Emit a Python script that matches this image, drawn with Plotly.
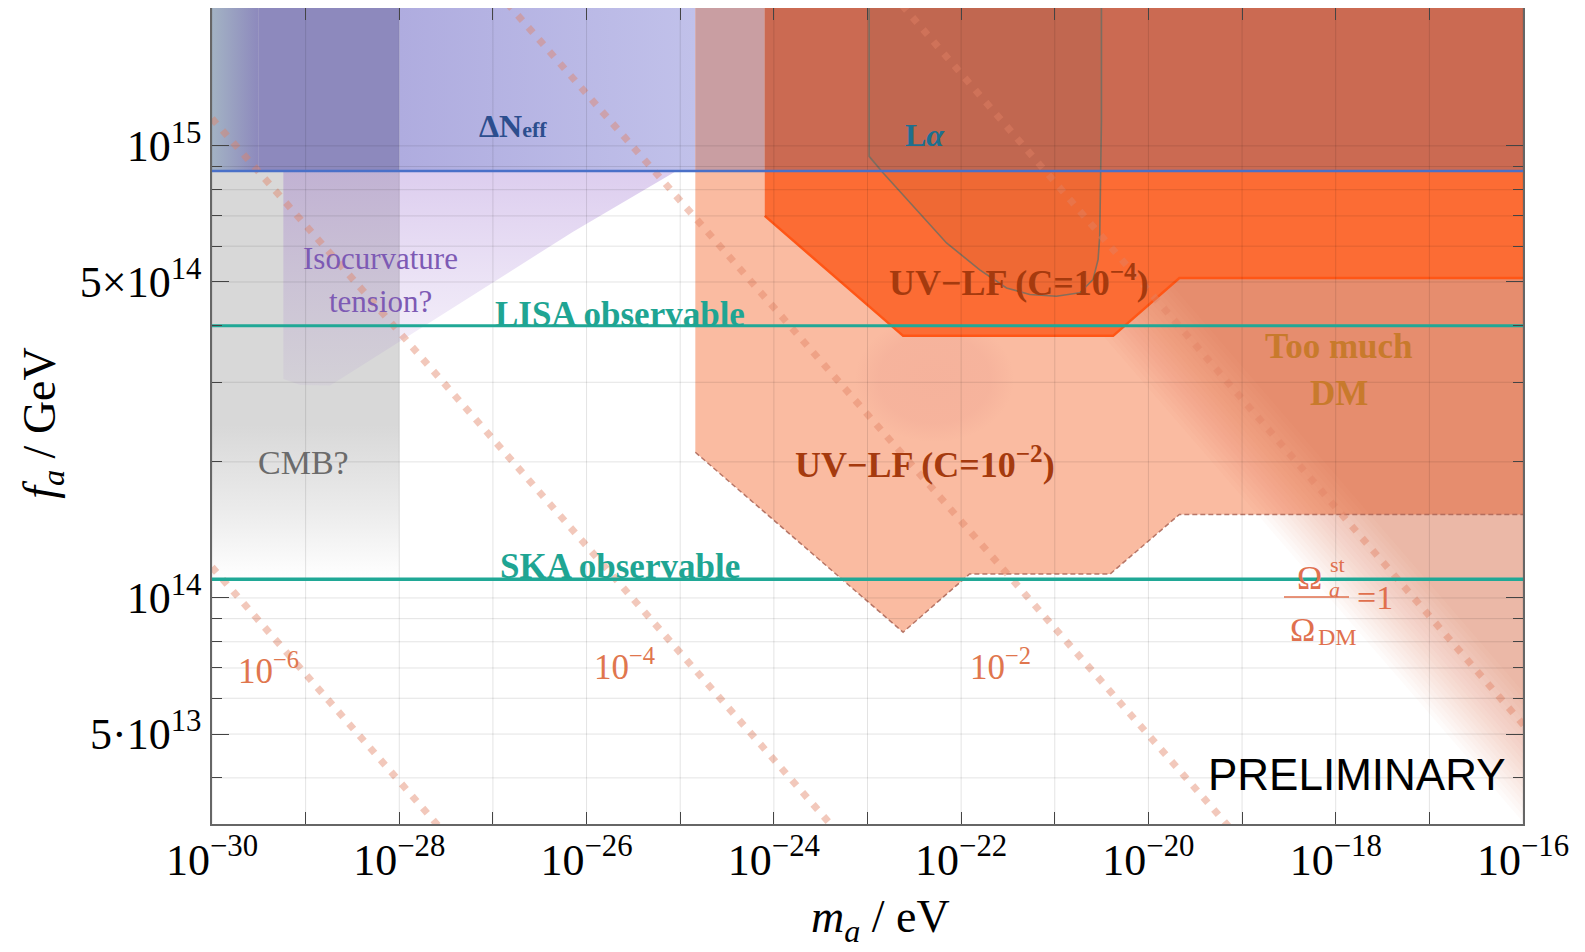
import math
import plotly.graph_objects as go

# ---------------- values ----------------
# axis ranges (log10 units)
x_range_log = [-30, -16]
y_range_log = [13.5, 15.305]

x_major = [1e-30, 1e-28, 1e-26, 1e-24, 1e-22, 1e-20, 1e-18, 1e-16]
x_major_text = ["10<sup>−30</sup>", "10<sup>−28</sup>", "10<sup>−26</sup>", "10<sup>−24</sup>",
                "10<sup>−22</sup>", "10<sup>−20</sup>", "10<sup>−18</sup>", "10<sup>−16</sup>"]
x_minor = [1e-29, 1e-27, 1e-25, 1e-23, 1e-21, 1e-19, 1e-17]

y_major = [5e13, 1e14, 5e14, 1e15]
y_major_text = ["5·10<sup>13</sup>", "10<sup>14</sup>", "5×10<sup>14</sup>", "10<sup>15</sup>"]
y_minor = [4e13, 6e13, 7e13, 8e13, 9e13, 2e14, 3e14, 4e14, 6e14, 7e14, 8e14, 9e14]

# plot frame limits used to close the filled regions
m_left, m_right = 1e-30, 1e-16
f_bottom, f_top = 3.17e13, 2.02e15

# horizontal lines (f_a in GeV)
f_dneff = 8.8e14
f_lisa = 4.0e14
f_ska = 1.1e14

# "CMB?" band
m_cmb = [1e-30, 1e-28]
f_cmb_fade = [1.1e14, 2.6e14]

# UV-LF (C = 1e-2) lower boundary
m_uv2 = [1.45e-25, 2.4e-23, 1.23e-22, 3.9e-21, 2.14e-20, 1e-16]
f_uv2 = [2.1e14, 8.4e13, 1.13e14, 1.13e14, 1.53e14, 1.53e14]

# UV-LF (C = 1e-4) lower boundary
m_uv4 = [8.0e-25, 2.4e-23, 4.2e-21, 2.14e-20, 1e-16]
f_uv4 = [7.0e14, 3.8e14, 3.8e14, 5.1e14, 5.1e14]

# soft darker patch under the C=1e-4 region (centre m, f and half-widths in decades)
blob_center = (5.2e-23, 3.05e14)
blob_halfwidth = (0.85, 0.14)

# Lyman-alpha contour
m_lya = [1.04e-23, 1.04e-23, 1.47e-23, 3.08e-23, 6.98e-23, 1.58e-22, 3.05e-22, 5.41e-22,
         1.04e-21, 1.85e-21, 2.56e-21, 2.90e-21, 3.02e-21, 3.15e-21, 3.15e-21]
f_lya = [2.02e15, 9.48e14, 8.71e14, 7.35e14, 6.10e14, 5.32e14, 4.85e14, 4.69e14,
         4.65e14, 4.73e14, 5.06e14, 5.60e14, 6.31e14, 1.14e15, 2.02e15]

# isocurvature tension region (below the ΔNeff line)
m_iso = [5.78e-30, 5.78e-30, 8.75e-30, 1.83e-29, 7.18e-27, 9.1e-26]
f_iso = [8.8e14, 3.05e14, 2.96e14, 2.95e14, 6.46e14, 8.8e14]

# ΔNeff band sub-zones (edges in m_a)
m_band = [1e-30, 3.16e-30, 1e-28, 1.45e-25, 8.0e-25, 1e-16]

# Ω_a/Ω_DM contours (endpoints), labels
omega_labels = ["10<sup>−6</sup>", "10<sup>−4</sup>", "10<sup>−2</sup>", "1"]
omega_m = [1e-30, 1e-14]
omega_f = [[1.17e14, 1.9e10], [1.15e15, 1.9e11], [1.15e16, 1.9e12], [1.2e17, 1.74e13]]

SERIF = "Liberation Serif, Times New Roman, serif"
SANS = "Liberation Sans, Arial, sans-serif"

fig = go.Figure()


def region(xs, ys, color="rgba(0,0,0,0)", grad=None, line=None):
    kw = dict(x=xs, y=ys, mode="lines", fill="toself", fillcolor=color,
              line=line if line else dict(width=0), hoverinfo="skip", showlegend=False)
    if grad is not None:
        kw["fillgradient"] = grad
    fig.add_trace(go.Scatter(**kw))


# 1. CMB? grey band with fading lower edge
region([m_cmb[0], m_cmb[1], m_cmb[1], m_cmb[0]],
       [f_cmb_fade[0], f_cmb_fade[0], f_top, f_top],
       grad=dict(type="vertical",
                 colorscale=[[0, "rgba(216,216,216,0)"], [0.12, "rgba(216,216,216,0.5)"],
                             [0.27, "rgba(216,216,216,1)"], [1, "rgba(216,216,216,1)"]]))

# 2. UV-LF C=1e-2 region (light salmon)
region([m_uv2[0]] + m_uv2 + [m_right, m_uv2[0]],
       [f_top] + f_uv2 + [f_top, f_top],
       color="rgb(250,187,161)")

# 2b. soft darker patch
bx, by = [], []
for k in range(61):
    t = 2 * math.pi * k / 60
    bx.append(blob_center[0] * 10 ** (blob_halfwidth[0] * math.cos(t)))
    by.append(blob_center[1] * 10 ** (blob_halfwidth[1] * math.sin(t)))
region(bx, by, grad=dict(type="radial",
                         colorscale=[[0, "rgba(215,120,120,0.13)"], [0.7, "rgba(215,120,120,0.11)"],
                                     [1, "rgba(215,120,120,0)"]]))

# 3. "Too much DM" region right of the Ω=1 contour, soft left edge
n_layers = 20
for k in range(n_layers):
    shift = 10 ** (-0.9 + 1.2 * k / (n_layers - 1))
    xs = [omega_m[0] * shift, omega_m[1] * shift, 1e-10, 1e-10, omega_m[0] * shift]
    ys = [omega_f[3][0], omega_f[3][1], omega_f[3][1], 1e18, 1e18]
    region(xs, ys, color="rgba(231,79,26,0.024)")

# 4. UV-LF C=1e-4 region (orange) with solid border
region([m_uv4[0]] + m_uv4 + [m_right, m_uv4[0]],
       [f_top] + f_uv4 + [f_top, f_top],
       color="rgb(252,108,52)")
fig.add_trace(go.Scatter(x=m_uv4, y=f_uv4, mode="lines",
                         line=dict(color="rgb(255,86,22)", width=2.5),
                         hoverinfo="skip", showlegend=False))

# 5. isocurvature tension (purple, fading downwards)
region(m_iso, f_iso,
       grad=dict(type="vertical",
                 colorscale=[[0, "rgba(140,90,200,0.06)"], [0.45, "rgba(140,90,200,0.16)"],
                             [1, "rgba(140,90,200,0.30)"]]))

# 6. ΔNeff excluded band (zones differ by what lies underneath)
band_fills = [
    dict(grad=dict(type="horizontal", colorscale=[[0, "rgb(163,179,196)"], [1, "rgb(141,137,189)"]])),
    dict(color="rgb(141,137,189)"),
    dict(grad=dict(type="horizontal", colorscale=[[0, "rgb(175,172,223)"], [1, "rgb(193,193,234)"]])),
    dict(color="rgb(201,158,162)"),
    dict(color="rgb(203,106,82)"),
]
for i, spec in enumerate(band_fills):
    a, b = m_band[i], m_band[i + 1]
    region([a, b, b, a], [f_dneff, f_dneff, f_top, f_top], **spec)

# 7. Lyman-alpha contour
region(m_lya, f_lya, color="rgba(70,70,60,0.07)",
       line=dict(color="rgba(105,110,100,0.8)", width=1.6))

# 8. dashed boundary of UV-LF C=1e-2
fig.add_trace(go.Scatter(x=m_uv2, y=f_uv2, mode="lines",
                         line=dict(color="rgba(170,100,85,0.85)", width=1.5, dash="5px,3px"),
                         hoverinfo="skip", showlegend=False))

# 9. Ω_a/Ω_DM contours (dotted)
for fpair in omega_f:
    fig.add_trace(go.Scatter(x=omega_m, y=fpair, mode="lines",
                             line=dict(color="rgba(225,130,100,0.44)", width=7, dash="7px,9px"),
                             hoverinfo="skip", showlegend=False))

# 10. grid drawn over the fills
gx, gy = [], []
for xv in sorted(x_major + x_minor):
    gx += [xv, xv, None]
    gy += [f_bottom, f_top, None]
for yv in sorted(y_major + y_minor):
    gx += [m_left, m_right, None]
    gy += [yv, yv, None]
fig.add_trace(go.Scatter(x=gx, y=gy, mode="lines", line=dict(color="rgba(0,0,0,0.11)", width=1),
                         hoverinfo="skip", showlegend=False))

# 11. bound / sensitivity lines
for fv, col, w in [(f_dneff, "rgb(74,112,200)", 2.5), (f_lisa, "rgb(32,168,150)", 3),
                   (f_ska, "rgb(32,168,150)", 3.5)]:
    fig.add_trace(go.Scatter(x=[m_left, m_right], y=[fv, fv], mode="lines",
                             line=dict(color=col, width=w), hoverinfo="skip", showlegend=False))


# ---------------- text ----------------
def label(x, y, text, size, color, family=SERIF, **kw):
    fig.add_annotation(x=x, y=y, xref="x", yref="y", text=text, showarrow=False,
                       xanchor="center", yanchor="middle",
                       font=dict(family=family, size=size, color=color), **kw)


label(-26.79, 15.043, "<b>ΔN<span style='font-size:22px'>eff</span></b>", 32, "#2C4E8E")
label(-22.39, 15.025, "<b>L<i>α</i></b>", 32, "#1E6F8E")
label(-28.20, 14.752, "Isocurvature", 31, "#7D5AB4")
label(-28.20, 14.655, "tension?", 31, "#7D5AB4")
label(-29.02, 14.299, "CMB?", 34, "#6B6B6B")
label(-25.64, 14.628, "<b>LISA observable</b>", 35, "#1FA593")
label(-25.64, 14.070, "<b>SKA observable</b>", 35, "#1FA593")
label(-21.38, 14.702, "<b>UV−LF (C=10<sup>−4</sup>)</b>", 36, "#A53A0E")
label(-22.39, 14.299, "<b>UV−LF (C=10<sup>−2</sup>)</b>", 36, "#A53A0E")
label(-17.97, 14.556, "<b>Too much</b>", 35, "#C87A2C")
label(-17.97, 14.452, "<b>DM</b>", 35, "#C87A2C")
label(-29.40, 13.845, omega_labels[0], 35, "#E0764E")
label(-25.59, 13.852, omega_labels[1], 35, "#E0764E")
label(-21.58, 13.852, omega_labels[2], 35, "#E0764E")
# Ω_a^st / Ω_DM = 1
label(-18.28, 14.045, "Ω", 34, "#E0704E")
label(-17.98, 14.075, "st", 22, "#E0704E")
label(-18.01, 14.018, "<i>a</i>", 22, "#E0704E")
label(-17.585, 14.001, "=" + omega_labels[3], 34, "#E0704E")
label(-18.36, 13.930, "Ω", 34, "#E0704E")
label(-17.98, 13.914, "DM", 24, "#E0704E")
fig.add_shape(type="line", xref="paper", yref="paper", x0=0.8177, x1=0.8673, y0=0.2783, y1=0.2783,
              line=dict(color="#E0704E", width=1.5))
label(-17.77, 13.609, "PRELIMINARY", 44, "black", family=SANS)

# axis titles
fig.add_annotation(x=-0.1295, y=0.492, xref="paper", yref="paper", showarrow=False, textangle=-90,
                   xanchor="center", yanchor="middle",
                   text="<i>f<sub>a</sub></i> / GeV", font=dict(family=SERIF, size=46, color="black"))
fig.add_annotation(x=0.5097, y=-0.1177, xref="paper", yref="paper", showarrow=False,
                   xanchor="center", yanchor="middle",
                   text="<i>m<sub>a</sub></i> / eV", font=dict(family=SERIF, size=46, color="black"))

axis_common = dict(type="log", ticks="inside", tickcolor="#444", tickwidth=1.3,
                   showline=True, linecolor="#666", linewidth=1.5, mirror="ticks",
                   showgrid=False, zeroline=False, automargin=False,
                   tickfont=dict(family=SERIF, size=44, color="black"))

# the page adds an 8 px body margin, so the figure is 8 px smaller than the window
fig.update_layout(
    width=1577, height=944,
    margin=dict(l=204, r=62, t=0, b=128, pad=0),
    paper_bgcolor="white", plot_bgcolor="white",
    showlegend=False,
    xaxis=dict(range=x_range_log, tickmode="array", tickvals=x_major, ticktext=x_major_text,
               ticklen=12, ticklabelstandoff=-4,
               minor=dict(tickmode="array", tickvals=x_minor, ticks="inside", ticklen=12,
                          tickcolor="#444", showgrid=False),
               **axis_common),
    yaxis=dict(range=y_range_log, tickmode="array", tickvals=y_major, ticktext=y_major_text,
               ticklen=17, ticklabelstandoff=0,
               minor=dict(tickmode="array", tickvals=y_minor, ticks="inside", ticklen=10,
                          tickcolor="#444", showgrid=False),
               **axis_common),
)

fig.write_html("out.html")
